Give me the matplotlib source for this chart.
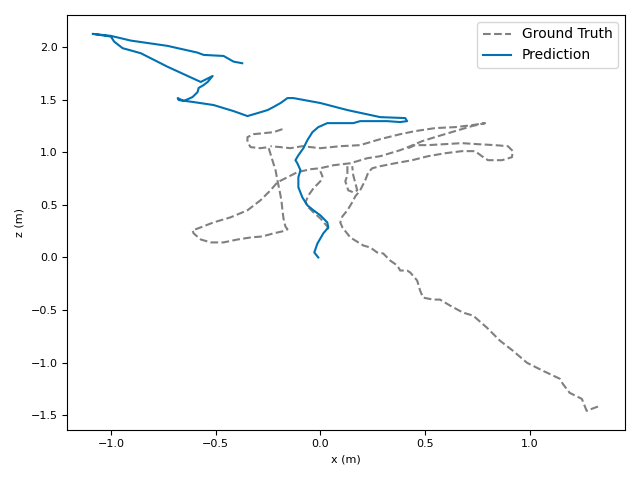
import numpy as np
import matplotlib
matplotlib.use('Agg')
import matplotlib.pyplot as plt

# 真值轨迹 (x, z)，nan 表示断开
gt_x = [-0.181, -0.224, -0.271, -0.319, -0.348, -0.348, -0.333, -0.286, -0.248,
        -0.238, -0.229, -0.214, -0.205, -0.195, -0.186, -0.181, -0.176, -0.167, -0.157,
        -0.181, -0.224, -0.276, -0.333, -0.395, -0.462, -0.524, -0.571, -0.605, -0.610,
        -0.571, -0.510, -0.429, -0.348, -0.286, -0.238, -0.205, -0.157, -0.110, -0.048,
        0.000, 0.062, 0.143, 0.224, 0.286, 0.333, 0.381, 0.429, 0.486, 0.562, 0.643,
        0.724, 0.786, 0.724, 0.643, 0.548, 0.452, 0.381, 0.286, 0.190, 0.095, 0.000,
        -0.086, -0.143, -0.190, -0.238,
        np.nan,
        0.038, 0.033, 0.000, -0.033, -0.057, -0.071, -0.057, -0.033, 0.000, 0.010, 0.000,
        np.nan,
        0.419, 0.452, 0.514, 0.595, 0.676, 0.752, 0.833, 0.895, 0.919, 0.914, 0.867,
        0.800, 0.771, 0.738, 0.676, 0.595, 0.514, 0.438, 0.357, 0.286, 0.248, 0.229,
        0.214, 0.190, 0.167, 0.152, 0.129, 0.105, 0.095, 0.105, 0.143, 0.205, 0.238,
        0.271, 0.300, 0.333, 0.367, 0.381, 0.414, 0.429, 0.462, 0.476, 0.490, 0.538,
        0.571, 0.619, 0.681, 0.729, 0.795, 0.857, 0.919, 0.986, 1.062, 1.143, 1.157,
        1.190, 1.248, 1.271, 1.295, 1.333,
        np.nan,
        0.129, 0.129, 0.119, 0.133, 0.157, 0.176, 0.167, 0.157, 0.152]
gt_z = [1.219, 1.190, 1.181, 1.171, 1.143, 1.095, 1.048, 1.038, 1.048,
        0.981, 0.924, 0.829, 0.733, 0.638, 0.543, 0.448, 0.371, 0.295, 0.267,
        0.248, 0.229, 0.200, 0.190, 0.171, 0.143, 0.143, 0.171, 0.229, 0.257,
        0.286, 0.333, 0.381, 0.448, 0.543, 0.638, 0.714, 0.762, 0.810, 0.838,
        0.848, 0.876, 0.895, 0.943, 0.962, 0.990, 1.019, 1.057, 1.105, 1.152, 1.200,
        1.248, 1.276, 1.257, 1.238, 1.229, 1.200, 1.171, 1.124, 1.067, 1.057, 1.038,
        1.057, 1.038, 1.048, 1.057,
        np.nan,
        0.267, 0.295, 0.371, 0.429, 0.476, 0.524, 0.590, 0.657, 0.724, 0.771, 0.819,
        np.nan,
        1.038, 1.067, 1.067, 1.076, 1.086, 1.076, 1.067, 1.057, 1.010, 0.952, 0.924,
        0.924, 0.962, 1.010, 1.010, 0.990, 0.962, 0.924, 0.895, 0.867, 0.848, 0.810,
        0.733, 0.638, 0.581, 0.524, 0.448, 0.390, 0.333, 0.286, 0.190, 0.114, 0.095,
        0.048, 0.038, -0.029, -0.076, -0.124, -0.124, -0.143, -0.219, -0.314, -0.381, -0.400,
        -0.400, -0.457, -0.524, -0.552, -0.667, -0.790, -0.886, -1.000, -1.076, -1.152, -1.200,
        -1.286, -1.343, -1.457, -1.438, -1.410,
        np.nan,
        0.867, 0.781, 0.724, 0.638, 0.619, 0.638, 0.705, 0.781, 0.867]

# 预测轨迹 (x, z)
pred_x = [-0.010, -0.029, -0.014, 0.014, 0.038, 0.033, 0.000, -0.033, -0.062, -0.086,
          -0.105, -0.105, -0.095, -0.110, -0.119, -0.105, -0.081, -0.062, -0.038, -0.010,
          0.033, 0.095, 0.157, 0.190, 0.252, 0.319, 0.381, 0.414, 0.405, 0.286, 0.129,
          0.000, -0.129, -0.157, -0.190, -0.224, -0.252, -0.300, -0.348, -0.414, -0.510,
          -0.605, -0.676, -0.681, -0.652, -0.610, -0.586, -0.581, -0.557, -0.538, -0.514,
          -0.571, -0.730, -0.857, -0.944, -0.984, -1.000, -1.087, -1.000, -0.905, -0.730,
          -0.587, -0.557, -0.462, -0.414, -0.373]
pred_z = [0.000, 0.048, 0.133, 0.229, 0.286, 0.333, 0.400, 0.448, 0.495, 0.571,
          0.667, 0.762, 0.829, 0.895, 0.924, 0.971, 1.038, 1.114, 1.190, 1.238,
          1.276, 1.276, 1.276, 1.295, 1.295, 1.295, 1.286, 1.295, 1.324, 1.333, 1.400,
          1.467, 1.514, 1.514, 1.467, 1.429, 1.400, 1.371, 1.343, 1.390, 1.448,
          1.476, 1.495, 1.514, 1.486, 1.524, 1.571, 1.610, 1.638, 1.667, 1.724,
          1.667, 1.812, 1.940, 1.988, 2.050, 2.098, 2.124, 2.105, 2.060, 2.010,
          1.946, 1.924, 1.914, 1.860, 1.845]

fig, ax = plt.subplots(figsize=(6.4, 4.8), dpi=100)
ax.plot(gt_x, gt_z, '--', color='gray', linewidth=1.5, label='Ground Truth')
ax.plot(pred_x, pred_z, '-', color='#0072B2', linewidth=1.5, label='Prediction')
ax.set_xlabel('x (m)', fontsize=8)
ax.set_ylabel('z (m)', fontsize=8)
ax.tick_params(labelsize=8)
ax.legend(loc='upper right')
plt.tight_layout()
plt.savefig('out.png')
